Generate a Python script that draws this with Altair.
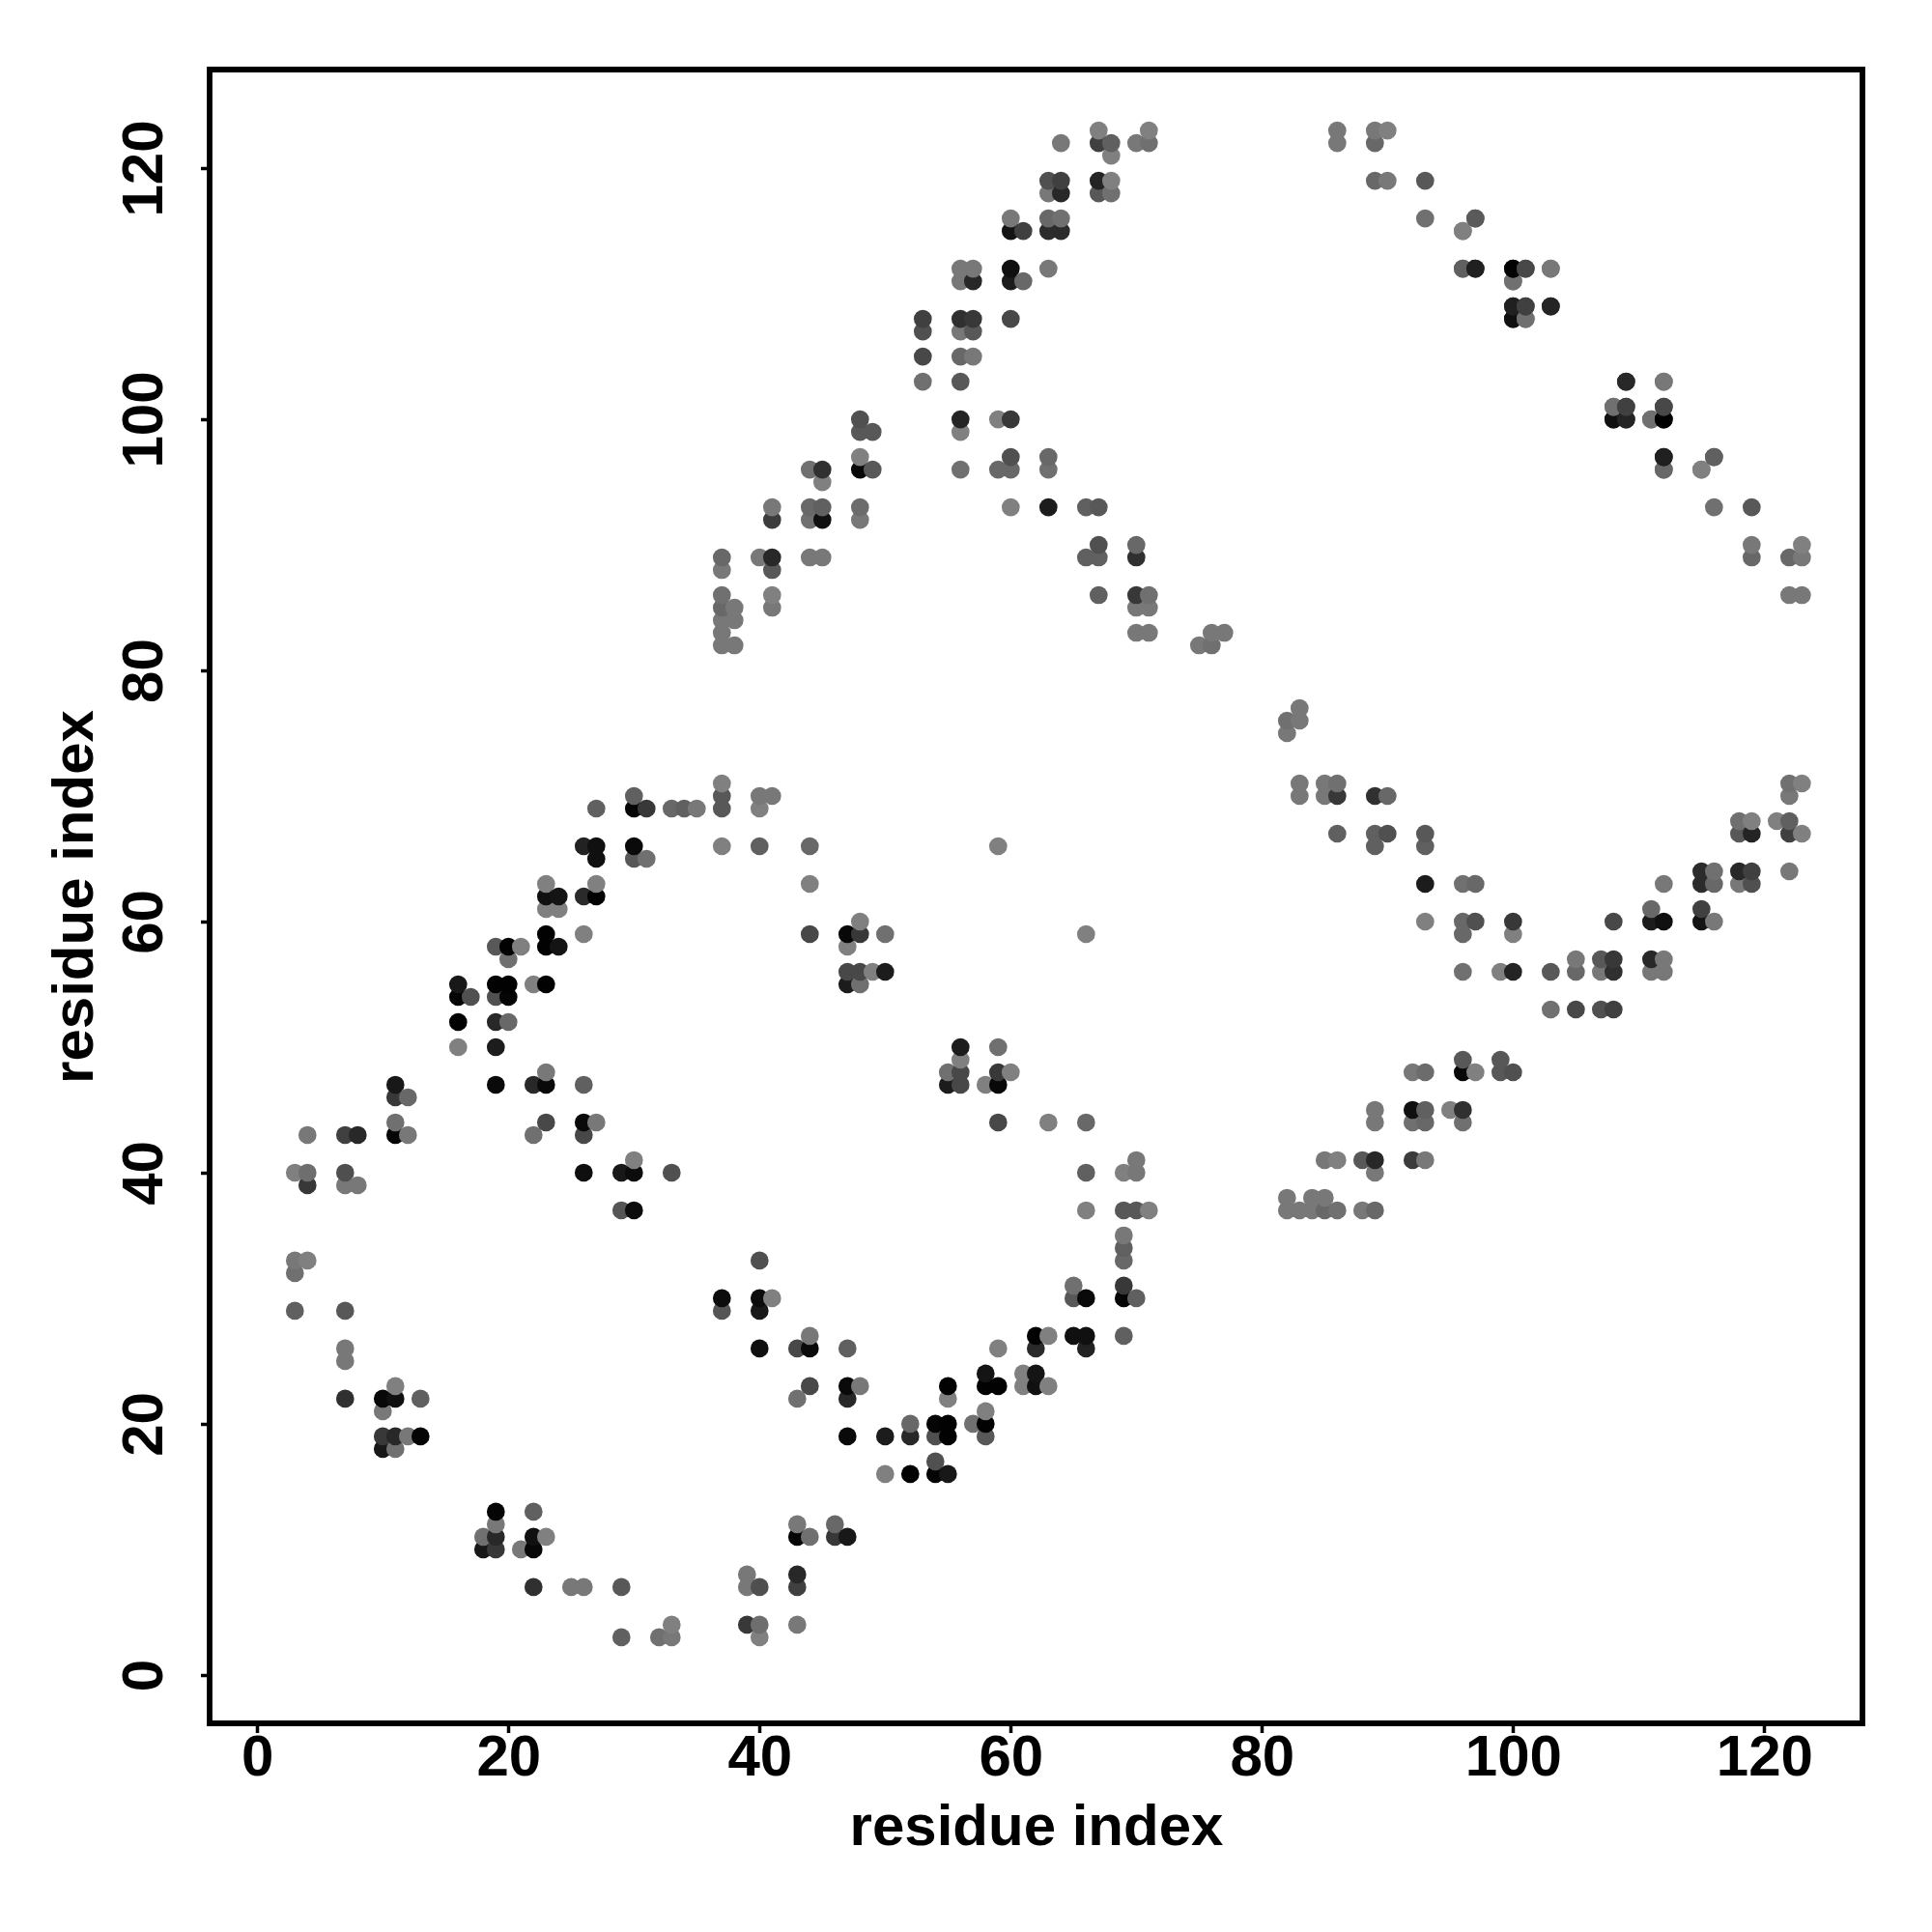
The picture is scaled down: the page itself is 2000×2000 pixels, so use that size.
import altair as alt
import pandas as pd

# Contacts above the diagonal, grouped by y: (x, y, grey level). The map is symmetric.
upper = [
 (30,41,0x80),(3,40,0x80),(4,40,0x6e),(7,40,0x4f),(26,40,0x0f),(29,40,0x18),(30,40,0x0c),(33,40,0x50),
 (4,39,0x38),(7,39,0x78),(8,39,0x78),(29,37,0x55),(30,37,0x0c),(3,33,0x78),(4,33,0x80),(3,32,0x70),
 (3,29,0x60),(7,29,0x58),(7,26,0x78),(7,25,0x78),(11,23,0x80),(7,22,0x30),(10,22,0x08),(11,22,0x10),
 (13,22,0x60),(10,21,0x78),(10,19,0x38),(11,19,0x28),(12,19,0x78),(13,19,0x05),(10,18,0x18),(11,18,0x70),
 (37,71,0x80),(30,70,0x60),(37,70,0x58),(40,70,0x78),(41,70,0x78),
 (27,69,0x60),(30,69,0x05),(31,69,0x38),(33,69,0x68),(34,69,0x60),(35,69,0x78),(37,69,0x58),(40,69,0x80),
 (26,66,0x22),(27,66,0x10),(30,66,0x0a),(37,66,0x80),(40,66,0x60),(44,66,0x68),(59,66,0x80),
 (27,65,0x10),(30,65,0x58),(31,65,0x70),(23,63,0x80),(27,63,0x80),(44,63,0x80),
 (23,62,0x10),(24,62,0x14),(26,62,0x2a),(27,62,0x02),(23,61,0x80),(24,61,0x80),
 (48,60,0x80),(23,59,0x02),(26,59,0x80),(44,59,0x48),(47,59,0x08),(48,59,0x38),(50,59,0x70),
 (19,58,0x58),(20,58,0x02),(21,58,0x80),(23,58,0x02),(24,58,0x14),(47,58,0x80),(20,57,0x70),
 (47,56,0x48),(48,56,0x48),(49,56,0x80),(50,56,0x1c),
 (16,55,0x18),(19,55,0x02),(20,55,0x02),(22,55,0x80),(23,55,0x02),(47,55,0x1c),(48,55,0x70),
 (16,54,0x05),(17,54,0x50),(19,54,0x50),(20,54,0x05),(16,52,0x02),(19,52,0x28),(20,52,0x68),
 (16,50,0x80),(19,50,0x1c),(23,48,0x78),
 (11,47,0x18),(19,47,0x0a),(22,47,0x28),(23,47,0x0a),(26,47,0x60),(11,46,0x38),(12,46,0x68),
 (11,44,0x70),(23,44,0x48),(26,44,0x0a),(27,44,0x78),
 (4,43,0x78),(7,43,0x40),(8,43,0x28),(11,43,0x05),(12,43,0x78),(22,43,0x70),(26,43,0x48),
 (48,100,0x50),(56,100,0x24),(59,100,0x80),(60,100,0x38),(48,99,0x58),(49,99,0x58),(56,99,0x80),
 (48,97,0x80),(60,97,0x50),(63,97,0x68),
 (44,96,0x70),(45,96,0x30),(48,96,0x08),(49,96,0x58),(56,96,0x70),(59,96,0x68),(60,96,0x68),(63,96,0x70),
 (45,95,0x80),(41,93,0x78),(44,93,0x68),(45,93,0x60),(48,93,0x6c),(60,93,0x80),(63,93,0x1c),(66,93,0x60),(67,93,0x58),
 (41,92,0x3c),(44,92,0x70),(45,92,0x10),(48,92,0x78),(67,90,0x50),(70,90,0x68),
 (37,89,0x68),(40,89,0x78),(41,89,0x28),(44,89,0x78),(45,89,0x78),(66,89,0x60),(67,89,0x60),(70,89,0x30),
 (37,88,0x78),(41,88,0x58),(37,86,0x70),(41,86,0x80),(67,86,0x60),(70,86,0x38),(71,86,0x70),
 (37,85,0x68),(38,85,0x78),(41,85,0x78),(70,85,0x78),(71,85,0x78),(37,84,0x78),(38,84,0x78),
 (37,83,0x78),(70,83,0x78),(71,83,0x78),(76,83,0x78),(77,83,0x78),
 (37,82,0x78),(38,82,0x78),(75,82,0x78),(76,82,0x70),
 (67,123,0x80),(71,123,0x80),(64,122,0x78),(67,122,0x40),(68,122,0x60),(70,122,0x78),(71,122,0x70),(68,121,0x80),
 (63,119,0x50),(64,119,0x40),(67,119,0x24),(68,119,0x80),(63,118,0x78),(64,118,0x28),(67,118,0x58),(68,118,0x70),
 (60,116,0x78),(63,116,0x68),(64,116,0x70),(60,115,0x14),(61,115,0x40),(63,115,0x2c),(64,115,0x2c),
 (56,112,0x78),(57,112,0x78),(60,112,0x10),(63,112,0x78),(56,111,0x78),(57,111,0x28),(60,111,0x1c),(61,111,0x68),
 (53,108,0x40),(56,108,0x30),(57,108,0x38),(60,108,0x48),(53,107,0x50),(56,107,0x78),(57,107,0x58),
 (53,105,0x48),(56,105,0x68),(57,105,0x78),(53,103,0x70),(56,103,0x58),
 (86,123,0x78),(89,123,0x78),(90,123,0x80),(86,122,0x78),(89,122,0x68),(89,119,0x68),(90,119,0x78),(93,119,0x58),
 (93,116,0x70),(97,116,0x60),(96,115,0x80),(96,112,0x68),(97,112,0x20),(100,112,0x02),(101,112,0x48),(103,112,0x78),
 (100,111,0x70),(100,109,0x24),(101,109,0x40),(103,109,0x28),(100,108,0x10),(101,108,0x70),
 (109,103,0x24),(112,103,0x78),(108,101,0x70),(109,101,0x40),(112,101,0x48),
 (108,100,0x10),(109,100,0x20),(111,100,0x70),(112,100,0x02),(112,97,0x20),(116,97,0x5a),(112,96,0x60),(115,96,0x80),
]
xs = [p[0] for p in upper]
ys = [p[1] for p in upper]
greys = [p[2] for p in upper]

df = pd.DataFrame({
    "x": xs + ys,
    "y": ys + xs,
    "c": ["#%02x%02x%02x" % (g, g, g) for g in greys + greys],
}).sort_values(["x", "y"])

ticks = [0, 20, 40, 60, 80, 100, 120]
font = "Liberation Sans"

def axis(angle=0, **kw):
    return alt.Axis(values=ticks, title="residue index", grid=False, domain=False,
                    tickColor="black", tickWidth=3.5, tickSize=9.5, labelColor="black",
                    labelFont=font, labelFontWeight="bold", labelFontSize=60,
                    titleFont=font, titleFontWeight="bold", titleFontSize=60, titleColor="black",
                    labelAngle=angle, **kw)

chart = (
    alt.Chart(df)
    .mark_circle(size=350, opacity=1)
    .encode(
        x=alt.X("x:Q", scale=alt.Scale(domain=[-3.79, 127.82], nice=False, zero=False),
                axis=axis(labelPadding=-3, titlePadding=13, labelFlush=False)),
        y=alt.Y("y:Q", scale=alt.Scale(domain=[-3.85, 127.85], nice=False, zero=False),
                axis=axis(angle=270, labelPadding=27, titlePadding=11, labelBaseline="bottom", labelAlign="center")),
        color=alt.Color("c:N", scale=None),
    )
    .properties(
        width=1711, height=1712,
        background="white",
        autosize=alt.AutoSizeParams(type="none"),
        padding={"left": 209, "top": 64, "right": 60, "bottom": 200},
    )
    .configure_view(stroke="black", strokeWidth=5.8, fill="white")
)
chart.save("out.html", embed_options={"renderer": "svg", "actions": False})
